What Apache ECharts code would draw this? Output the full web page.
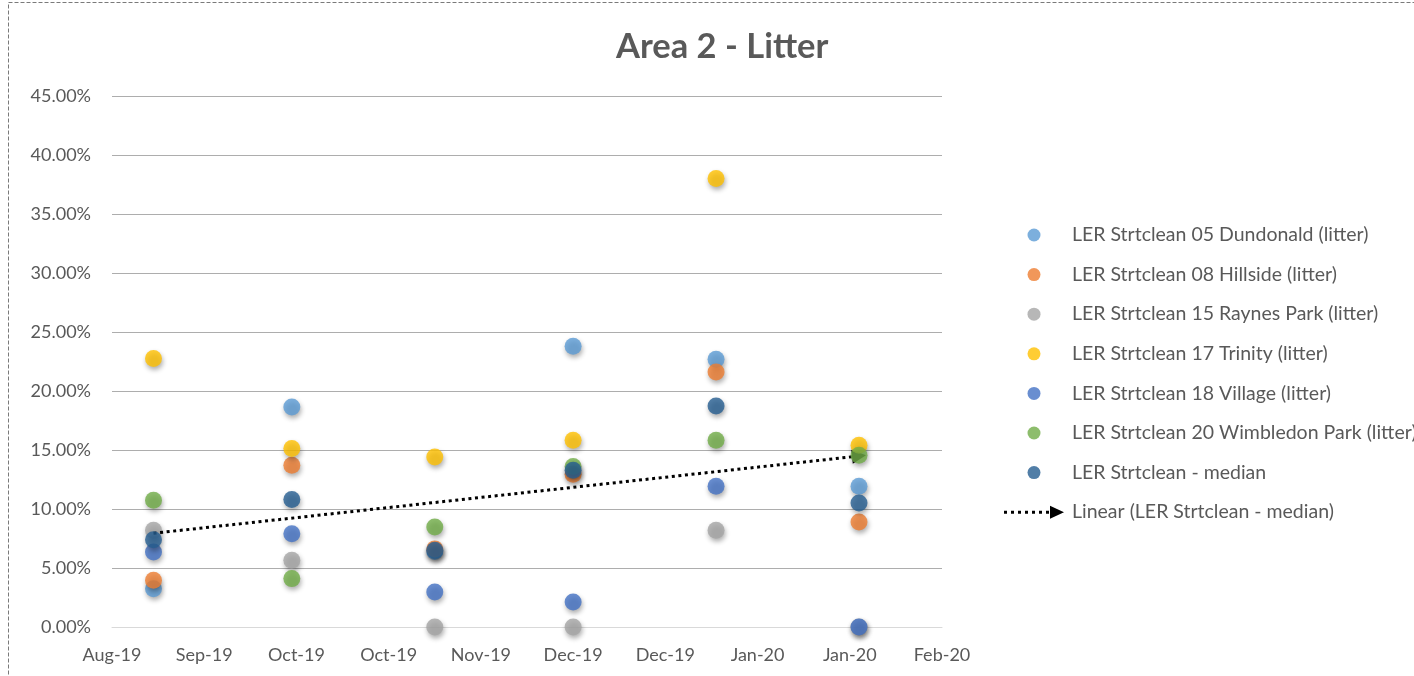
<!DOCTYPE html>
<html>
<head>
<meta charset="utf-8">
<title>Area 2 - Litter</title>
<script src="https://cdn.jsdelivr.net/npm/echarts@6/dist/echarts.min.js"></script>
<style>
  html, body { margin: 0; padding: 0; background: #ffffff; }
  #chart { width: 1414px; height: 676px; }
</style>
</head>
<body>
<div id="chart"></div>
<script>
// Survey dates (one per month) and litter scores in percent
const surveyDates = ['2019-09-01', '2019-10-01', '2019-11-01', '2019-12-01', '2020-01-01', '2020-02-01'];

const dundonald     = [3.25, 18.64, 6.40, 23.79, 22.69, 11.92];
const hillside      = [3.96, 13.70, 6.62, 12.94, 21.61, 8.90];
const raynesPark    = [8.19, 5.65, 0.00, 0.00, 8.19, 0.00];
const trinity       = [22.75, 15.12, 14.40, 15.82, 38.00, 15.40];
const village       = [6.36, 7.90, 2.97, 2.12, 11.92, 0.00];
const wimbledonPark = [10.74, 4.10, 8.47, 13.60, 15.82, 14.55];
const median        = [7.40, 10.80, 6.50, 13.28, 18.73, 10.50];

const seriesNames = [
  'LER Strtclean 05 Dundonald (litter)',
  'LER Strtclean 08 Hillside (litter)',
  'LER Strtclean 15 Raynes Park (litter)',
  'LER Strtclean 17 Trinity (litter)',
  'LER Strtclean 18 Village (litter)',
  'LER Strtclean 20 Wimbledon Park (litter)',
  'LER Strtclean - median'
];
const trendName = 'Linear (LER Strtclean - median)';

// Date axis bounds and step (serial day numbers)
const axisStart = '2019-08-23';
const axisEnd = '2020-02-19';
const axisStepDays = 20;

// Percentage axis
const yMax = 45;
const yStep = 5;

const MONTHS = ['Jan', 'Feb', 'Mar', 'Apr', 'May', 'Jun', 'Jul', 'Aug', 'Sep', 'Oct', 'Nov', 'Dec'];
const EPOCH = Date.UTC(1899, 11, 30);

function toSerial(s) {
  const p = s.split('-').map(Number);
  return Math.round((Date.UTC(p[0], p[1] - 1, p[2]) - EPOCH) / 86400000);
}
function serialLabel(v) {
  const d = new Date(EPOCH + v * 86400000);
  return MONTHS[d.getUTCMonth()] + '-' + String(d.getUTCFullYear()).slice(2);
}

const xs = surveyDates.map(toSerial);
const pairs = arr => arr.map((v, i) => [xs[i], v]);

// Least-squares trend through the median series
function linearFit(x, y) {
  const n = x.length;
  const mx = x.reduce((a, b) => a + b, 0) / n;
  const my = y.reduce((a, b) => a + b, 0) / n;
  let sxy = 0, sxx = 0;
  for (let i = 0; i < n; i++) {
    sxy += (x[i] - mx) * (y[i] - my);
    sxx += (x[i] - mx) * (x[i] - mx);
  }
  const slope = sxy / sxx;
  return v => my + slope * (v - mx);
}
const fit = linearFit(xs, median);
const trendStart = [xs[0], fit(xs[0])];
const trendEnd = [xs[xs.length - 1], fit(xs[xs.length - 1])];

const colors = ['#5B9BD5', '#ED7D31', '#A5A5A5', '#FFC000', '#4472C4', '#70AD47', '#255E91'];
const values = [dundonald, hillside, raynesPark, trinity, village, wimbledonPark, median];

const FONT = 'Lato, "Open Sans", sans-serif';
const TEXT = '#595959';

const scatterSeries = values.map((arr, i) => ({
  name: seriesNames[i],
  type: 'scatter',
  data: pairs(arr),
  symbol: 'circle',
  symbolSize: 17,
  z: 2 + i,
  itemStyle: {
    color: colors[i],
    shadowBlur: 5,
    shadowOffsetX: 1,
    shadowOffsetY: 3,
    shadowColor: 'rgba(0,0,0,0.4)'
  }
}));

// Dotted line with triangular head, used as the legend icon of the trend
const trendIcon = 'path://M0,5h3v3h-3z M7,5h3v3h-3z M14,5h3v3h-3z M21,5h3v3h-3z M28,5h3v3h-3z M35,5h3v3h-3z M42,5h3v3h-3z M46,0L60,6.5L46,13z';

const trendSeries = {
  name: trendName,
  type: 'line',
  data: [trendStart, trendEnd],
  symbol: 'none',
  z: 20,
  itemStyle: { color: '#000000' },
  lineStyle: { opacity: 0 },
  silent: true,
  markLine: {
    silent: true,
    symbol: ['none', 'triangle'],
    symbolSize: 14,
    label: { show: false },
    emphasis: { disabled: true },
    lineStyle: { color: '#000000', width: 3, type: [3, 3.6], cap: 'butt' },
    itemStyle: { color: '#000000' },
    data: [[{ coord: trendStart }, { coord: trendEnd }]]
  }
};

const chart = echarts.init(document.getElementById('chart'), null, { renderer: 'canvas' });

chart.setOption({
  animation: false,
  backgroundColor: '#ffffff',
  textStyle: { fontFamily: FONT },
  title: {
    text: 'Area 2 - Litter',
    left: 616,
    top: 29,
    padding: 0,
    textStyle: { fontFamily: FONT, fontSize: 34.5, fontWeight: 'bold', color: TEXT }
  },
  graphic: [{
    type: 'rect',
    silent: true,
    shape: { x: 8.5, y: 2.5, width: 1440, height: 720 },
    style: { fill: 'none', stroke: '#7A7A7A', lineWidth: 1, lineDash: [4, 2] },
    z: 0
  }],
  legend: {
    orient: 'vertical',
    left: 999,
    top: 220,
    itemWidth: 60,
    itemHeight: 13,
    itemGap: 19.6,
    selectedMode: false,
    itemStyle: { shadowBlur: 0, shadowOffsetX: 0, shadowOffsetY: 0, shadowColor: 'rgba(0,0,0,0)' },
    textStyle: { fontFamily: FONT, fontSize: 19.5, color: TEXT, lineHeight: 20, padding: [0, 0, 0, 3] },
    data: seriesNames.map(n => ({ name: n, icon: 'circle' })).concat([{ name: trendName, icon: trendIcon }])
  },
  grid: { left: 112, right: 472, top: 96, bottom: 49, containLabel: false },
  xAxis: {
    type: 'value',
    min: toSerial(axisStart),
    max: toSerial(axisEnd),
    interval: axisStepDays,
    axisLine: { show: true, lineStyle: { color: '#D9D9D9', width: 1 } },
    axisTick: { show: false },
    splitLine: { show: false },
    axisLabel: {
      margin: 19,
      fontFamily: FONT,
      fontSize: 18,
      color: TEXT,
      showMinLabel: true,
      showMaxLabel: true,
      formatter: serialLabel
    }
  },
  yAxis: {
    type: 'value',
    min: 0,
    max: yMax,
    interval: yStep,
    axisLine: { show: false },
    axisTick: { show: false },
    splitLine: { show: true, lineStyle: { color: '#ADADAD', width: 1 } },
    axisLabel: {
      margin: 21,
      fontFamily: FONT,
      fontSize: 18,
      color: TEXT,
      formatter: v => v.toFixed(2) + '%'
    }
  },
  series: scatterSeries.concat([trendSeries])
});
</script>
</body>
</html>
